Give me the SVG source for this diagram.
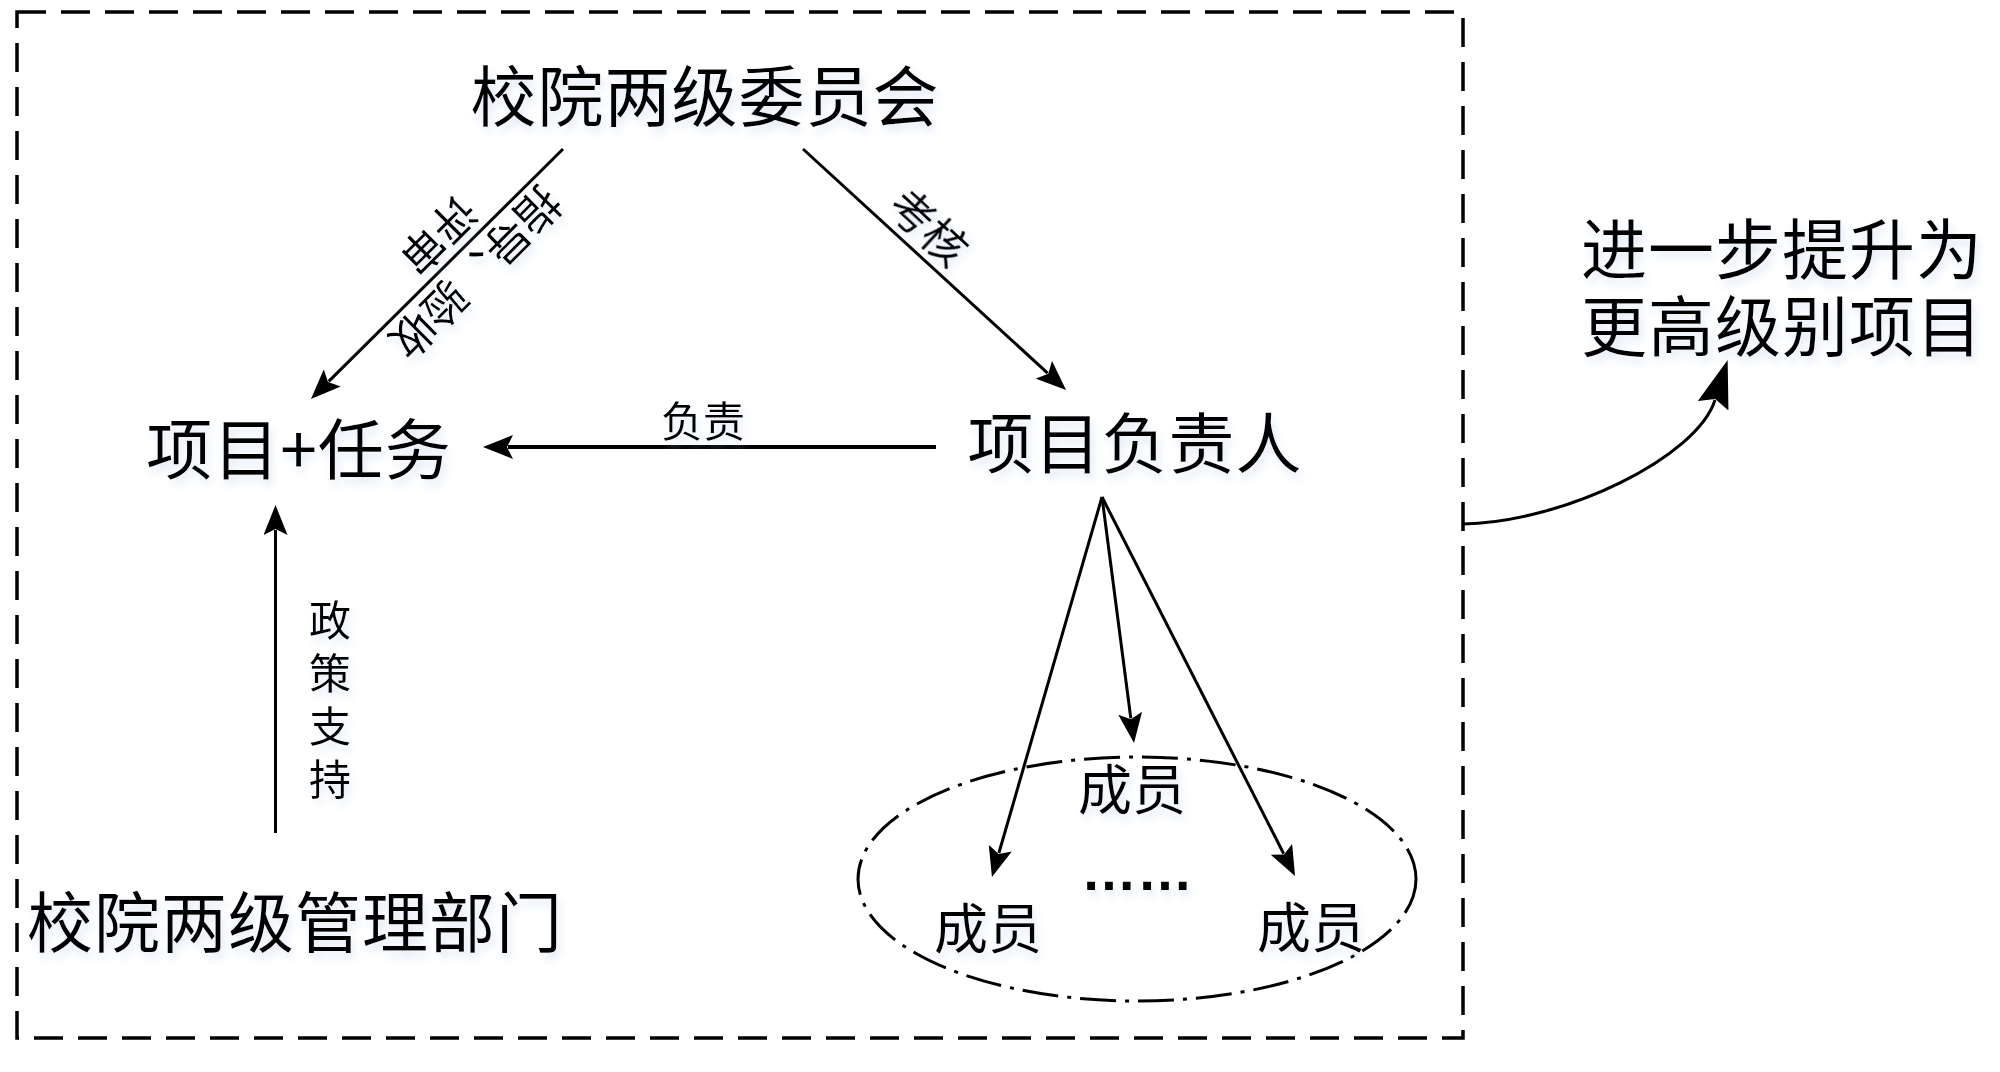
<svg xmlns="http://www.w3.org/2000/svg" width="2000" height="1072" viewBox="0 0 2000 1072">
<defs>
<style>
text{font-family:"Noto Sans CJK SC","Liberation Sans",sans-serif;fill:#000;}
.big{font-size:66px;letter-spacing:1px;}
.two{font-family:"Liberation Sans","Noto Sans CJK SC",sans-serif;}
.mem{font-size:54px;}
.lab{font-size:42px;}
.rlab{font-size:44px;}
.vert{font-size:42px;writing-mode:vertical-rl;letter-spacing:11px;}
.ln{stroke:#000;fill:none;stroke-width:3;}
.thick{stroke-width:4;}
</style>
<filter id="sh" x="-10%" y="-20%" width="130%" height="150%">
<feOffset in="SourceAlpha" dx="3" dy="6" result="o"/>
<feGaussianBlur in="o" stdDeviation="4" result="b"/>
<feFlood flood-color="#b9cde6" flood-opacity="0.45"/>
<feComposite in2="b" operator="in" result="s"/>
<feMerge><feMergeNode in="s"/><feMergeNode in="SourceGraphic"/></feMerge>
</filter>
<marker id="arr" viewBox="0 0 30 24" refX="5" refY="12" markerWidth="30" markerHeight="24" markerUnits="userSpaceOnUse" orient="auto">
<path d="M0,0 L30,12 L0,24 L6,12 z" fill="#000"/>
</marker>
<marker id="arrBig" viewBox="0 0 48 32" refX="6" refY="16" markerWidth="48" markerHeight="32" markerUnits="userSpaceOnUse" orient="auto">
<path d="M0,0 L48,16 L0,32 L7,16 z" fill="#000"/>
</marker>
</defs>
<rect width="2000" height="1072" fill="#fff"/>

<g id="boundary">
<rect x="17" y="12" width="1446" height="1026" fill="none" stroke="#000" stroke-width="3.5" stroke-dasharray="29 15"/>
</g>

<g id="member-group">
<ellipse cx="1137" cy="879" rx="279" ry="122" fill="none" stroke="#000" stroke-width="3" stroke-dasharray="36 9 4 9"/>
</g>

<g id="connectors">
<line class="ln" x1="563" y1="149" x2="328.7" y2="381.4" marker-end="url(#arr)"/>
<line class="ln" x1="803" y1="149" x2="1047.6" y2="373.1" marker-end="url(#arr)"/>
<line class="ln thick" x1="936" y1="447" x2="508" y2="447" marker-end="url(#arr)"/>
<line class="ln" x1="275.5" y1="833" x2="275.5" y2="530" marker-end="url(#arr)"/>
<line class="ln" stroke-width="3.5" x1="1102" y1="497" x2="998.9" y2="853" marker-end="url(#arr)"/>
<line class="ln" stroke-width="3.5" x1="1102" y1="497" x2="1130.8" y2="718.2" marker-end="url(#arr)"/>
<line class="ln" stroke-width="3.5" x1="1102" y1="497" x2="1283.7" y2="853.7" marker-end="url(#arr)"/>
<path class="ln" stroke-width="4.5" d="M1463,524 C1565,522 1697,457 1715,400" marker-end="url(#arrBig)"/>
</g>

<g id="labels" filter="url(#sh)">
<text class="rlab" text-anchor="middle" transform="translate(457,254) rotate(135)"><tspan x="0" y="-10">指导、验收</tspan><tspan x="0" y="43">评审</tspan></text>
<text class="rlab" text-anchor="middle" transform="translate(929,227) rotate(42.6)" x="0" y="17">考核</text>
<text class="lab" text-anchor="middle" x="703" y="437">负责</text>
<text class="vert" x="330" y="599">政策支持</text>
</g>

<g id="node-committee" filter="url(#sh)">
<text class="big" text-anchor="middle" x="705" y="121">校院两级委员会</text>
</g>
<g id="node-project" filter="url(#sh)">
<text class="big" text-anchor="middle" x="299" y="474">项目+任务</text>
</g>
<g id="node-leader" filter="url(#sh)">
<text class="big" text-anchor="middle" x="1135" y="468">项目负责人</text>
</g>
<g id="node-admin" filter="url(#sh)">
<text class="big" text-anchor="middle" x="295" y="947">校院两级管理部门</text>
</g>
<g id="node-upgrade" filter="url(#sh)">
<text class="big two" text-anchor="middle" x="1782" y="274">进一步提升为</text>
<text class="big two" text-anchor="middle" x="1782" y="351">更高级别项目</text>
</g>
<g id="node-member-top" filter="url(#sh)">
<text class="mem" text-anchor="middle" x="1132" y="810">成员</text>
</g>
<g id="node-member-left" filter="url(#sh)">
<text class="mem" text-anchor="middle" x="988" y="949">成员</text>
</g>
<g id="node-member-right" filter="url(#sh)">
<text class="mem" text-anchor="middle" x="1311" y="948">成员</text>
</g>
<g id="node-ellipsis" filter="url(#sh)">
<text x="1081" y="890" style="font-family:'Liberation Sans',sans-serif;font-size:56px;font-weight:bold">……</text>
</g>
</svg>
